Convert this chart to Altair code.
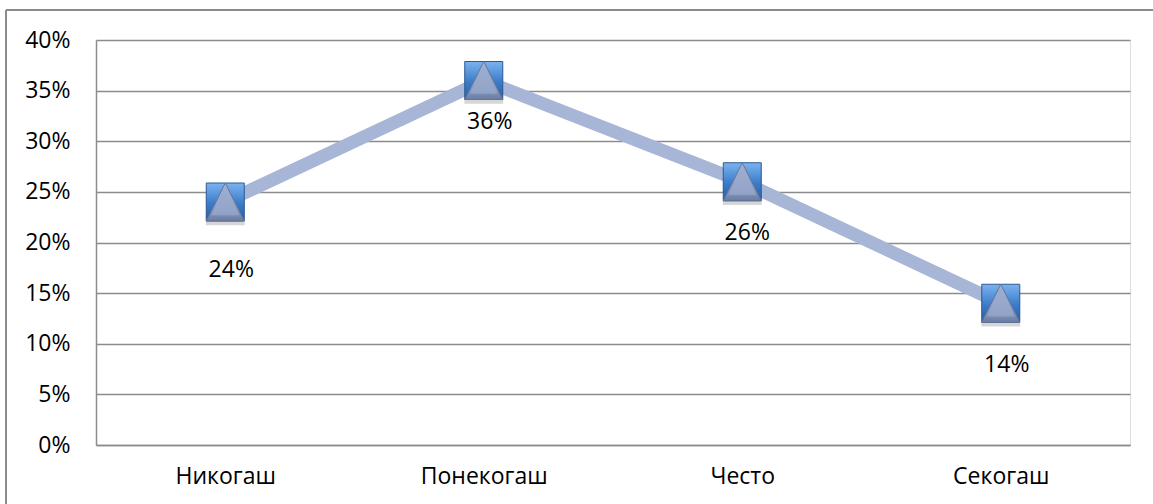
import altair as alt
import pandas as pd

# Survey answers: how often (Никогаш / Понекогаш / Често / Секогаш)
categories = ["Никогаш", "Понекогаш", "Често", "Секогаш"]
shares = [0.24, 0.36, 0.26, 0.14]

# label placement relative to each point (pixels)
label_dx = [6, 6, 5, 6]
label_dy = [68, 41, 51, 62]

df = pd.DataFrame({"cat": categories, "share": shares})

FONT = "Open Sans"
FS = 23
W, H = 1034, 405

x_enc = alt.X("cat:N", sort=categories, title=None,
              scale=alt.Scale(type="point", padding=0.5),
              axis=alt.Axis(labelAngle=0, ticks=False, domain=True,
                            domainColor="#8c8c8c", domainWidth=1.5,
                            labelPadding=20, labelFontSize=FS,
                            labelFont=FONT, labelColor="#000000", grid=False))
y_enc = alt.Y("share:Q", title=None,
              scale=alt.Scale(domain=[0, 0.40], nice=False, zero=True),
              axis=alt.Axis(values=[i / 100 for i in range(0, 45, 5)],
                            format=".0%", ticks=False, domain=True,
                            domainColor="#8c8c8c", domainWidth=1.5,
                            grid=True, gridColor="#8c8c8c", gridWidth=1.3,
                            labelPadding=26, labelFontSize=FS,
                            labelFont=FONT, labelColor="#000000"))

base = alt.Chart(df).encode(x=x_enc, y=y_enc)

line = base.mark_line(color="#a7b6d6", strokeWidth=13, strokeCap="butt",
                      strokeJoin="miter")

shadow = base.mark_point(shape="M-1,-0.6L1,-0.6L1,1.2L-1,1.2Z", size=1500,
                         filled=True, fill="#8a8a8a", opacity=0.35,
                         strokeWidth=0)

square = base.mark_point(shape="square", size=1444, filled=True,
                         fill=alt.Gradient(gradient="linear",
                                           stops=[alt.GradientStop(color="#7cb3ef", offset=0),
                                                  alt.GradientStop(color="#3a7bc8", offset=0.55),
                                                  alt.GradientStop(color="#2a5f9f", offset=1)],
                                           x1=0, x2=0, y1=0, y2=1),
                         stroke="#2c5a92", strokeWidth=1, opacity=1)

pyramid = base.mark_point(shape="M-1,1L0,-1L1,1Z", size=1444, filled=True,
                          fill=alt.Gradient(gradient="linear",
                                            stops=[alt.GradientStop(color="#a3b2d2", offset=0),
                                                   alt.GradientStop(color="#8798bf", offset=0.75),
                                                   alt.GradientStop(color="#6a7ba1", offset=1)],
                                            x1=0, x2=0, y1=0, y2=1),
                          stroke="#62749b", strokeWidth=1, opacity=1)

face = base.mark_point(shape="M-0.72,0.7L0,-0.95L0.72,0.7Z", size=1444,
                       filled=True, fill="#9dadd0", strokeWidth=0, opacity=0.6)

labels = []
for cat, dx, dy in zip(categories, label_dx, label_dy):
    labels.append(
        base.transform_filter(alt.datum.cat == cat)
        .mark_text(dx=dx, dy=dy, fontSize=FS, font=FONT, color="#000000",
                   baseline="middle", align="center")
        .encode(text=alt.Text("share:Q", format=".0%"))
    )

# outer chart frame (top and left edges)
frame_top = alt.Chart(df).mark_rule(color="#8a8a8a", strokeWidth=2).encode(
    x=alt.value(-90), x2=alt.value(W + 40), y=alt.value(-30))
frame_left = alt.Chart(df).mark_rule(color="#8a8a8a", strokeWidth=2).encode(
    x=alt.value(-90), y=alt.value(-30), y2=alt.value(H + 80))

chart = alt.layer(frame_top, frame_left, line, shadow, square, pyramid, face,
                  *labels).properties(
    width=W, height=H,
    autosize=alt.AutoSizeParams(type="none"),
    padding={"left": 96, "top": 40, "right": 23, "bottom": 59},
).configure_view(stroke=None).configure(background="#ffffff")

chart.save("out.html", embed_options={"renderer": "svg", "actions": False})
